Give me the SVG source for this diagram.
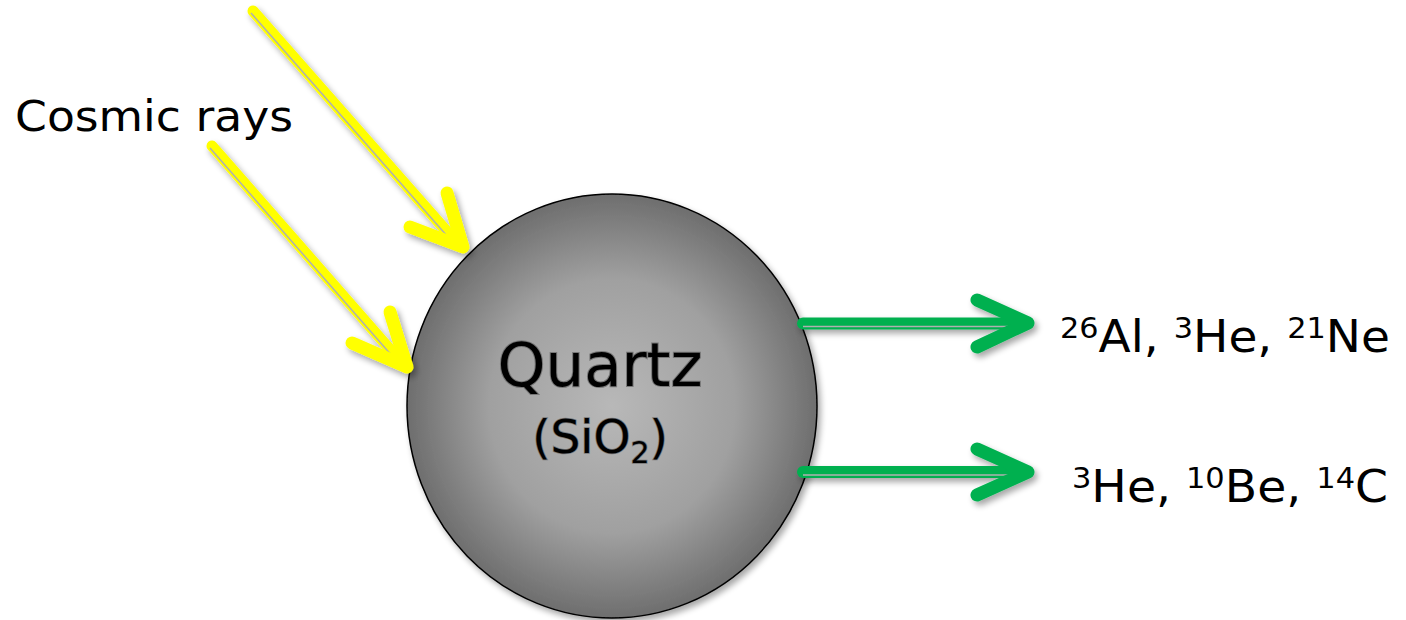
<svg xmlns="http://www.w3.org/2000/svg" width="1406" height="620" viewBox="0 0 1406 620">
<defs>
<radialGradient id="g" cx="0.5" cy="0.5" r="0.5">
<stop offset="0" stop-color="#b8b8b8"/>
<stop offset="0.6" stop-color="#a0a0a0"/>
<stop offset="1" stop-color="#6e6e6e"/>
</radialGradient>
<filter id="sh" x="-20%" y="-20%" width="140%" height="140%">
<feGaussianBlur in="SourceAlpha" stdDeviation="3"/>
<feOffset dx="3" dy="4" result="b"/>
<feComponentTransfer><feFuncA type="linear" slope="0.35"/></feComponentTransfer>
<feMerge><feMergeNode/><feMergeNode in="SourceGraphic"/></feMerge>
</filter>
</defs>
<style>
.t{font-family:"DejaVu Sans",Verdana,sans-serif;fill:#000}
.y{stroke:#ffff00;fill:none;stroke-linecap:round;stroke-linejoin:round}
.gr{stroke:#00b050;fill:none;stroke-linecap:round;stroke-linejoin:round}
.gy{stroke:#b0b0b0;stroke-width:1.5;fill:none}
</style>
<g id="quartz">
<ellipse cx="612" cy="406" rx="205" ry="212" fill="url(#g)" stroke="#000" stroke-width="1.5" filter="url(#sh)"/>
<text class="t" x="600" y="386" font-size="61" text-anchor="middle" stroke="#777" stroke-width="2" paint-order="stroke">Quartz</text>
<text class="t" x="600" y="453" font-size="47" text-anchor="middle" stroke="#777" stroke-width="1.5" paint-order="stroke">(SiO<tspan font-size="30" dy="10">2</tspan><tspan dy="-10">)</tspan></text>
</g>
<g id="cosmic-label">
<text class="t" x="15" y="131" font-size="43" textLength="278" lengthAdjust="spacingAndGlyphs">Cosmic rays</text>
</g>
<g id="product1">
<text class="t" x="1060" y="352" font-size="45" textLength="330" lengthAdjust="spacingAndGlyphs"><tspan font-size="29" dy="-14">26</tspan><tspan dy="14">Al, </tspan><tspan font-size="29" dy="-14">3</tspan><tspan dy="14">He, </tspan><tspan font-size="29" dy="-14">21</tspan><tspan dy="14">Ne</tspan></text>
</g>
<g id="product2">
<text class="t" x="1072" y="502" font-size="45" textLength="316" lengthAdjust="spacingAndGlyphs"><tspan font-size="29" dy="-14">3</tspan><tspan dy="14">He, </tspan><tspan font-size="29" dy="-14">10</tspan><tspan dy="14">Be, </tspan><tspan font-size="29" dy="-14">14</tspan><tspan dy="14">C</tspan></text>
</g>
<g id="connectors" filter="url(#sh)">
<g id="ray1">
<line class="y" x1="253" y1="11" x2="457" y2="243" stroke-width="11" stroke-linecap="butt"/>
<line class="gy" x1="251" y1="13" x2="455" y2="245"/>
<polyline class="y" points="447,193 463,247 410,227" stroke-width="13"/>
</g>
<g id="ray2">
<line class="y" x1="212" y1="146" x2="402" y2="363" stroke-width="11" stroke-linecap="butt"/>
<line class="gy" x1="210" y1="148" x2="400" y2="365"/>
<polyline class="y" points="390,312 407,367 352,343" stroke-width="13"/>
</g>
<g id="out1">
<line class="gr" x1="803" y1="323.5" x2="1022" y2="323.5" stroke-width="12" stroke-linecap="butt"/>
<line class="gy" x1="803" y1="326.5" x2="1020" y2="326.5"/>
<polyline class="gr" points="977,300 1028,323 977,347" stroke-width="13"/>
</g>
<g id="out2">
<line class="gr" x1="803" y1="472" x2="1022" y2="472" stroke-width="12" stroke-linecap="butt"/>
<line class="gy" x1="803" y1="475" x2="1020" y2="475"/>
<polyline class="gr" points="977,449 1028,472 977,495" stroke-width="13"/>
</g>
</g>
</svg>
